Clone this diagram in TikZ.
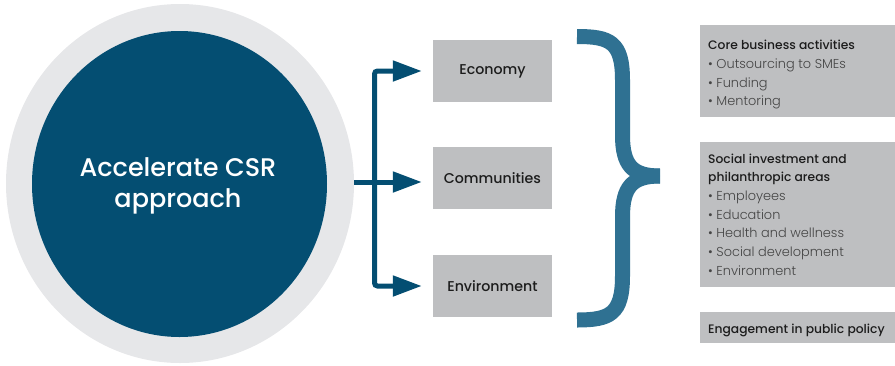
\documentclass[tikz,border=0pt]{standalone}
\usepackage{fontspec}
\setmainfont{Poppins}
\newfontfamily\medfont{Poppins Medium}
\newfontfamily\lightfont{Poppins Light}
\usetikzlibrary{shapes.geometric,arrows.meta}

\definecolor{navy}{HTML}{044E72}
\definecolor{ringgray}{HTML}{E6E7E9}
\definecolor{boxgray}{HTML}{BEBFC1}
\definecolor{bracecol}{HTML}{2F7192}
\definecolor{headtxt}{HTML}{1C1C1C}
\definecolor{itemtxt}{HTML}{454545}

\tikzset{
  pillar/.style={fill=boxgray, minimum width=119pt, minimum height=62pt,
    inner sep=0pt, font=\fontsize{14.2}{16}\medfont, text=headtxt},
  flow/.style={draw=navy, line width=5pt, rounded corners=3pt,
    -{Triangle[length=29pt,width=20pt]}, shorten >=11pt},
  panel/.style={fill=boxgray, anchor=north west, inner sep=0pt},
  paneltext/.style={anchor=north west, align=left, inner sep=0pt,
    font=\fontsize{12.9}{18.7}\lightfont, text=itemtxt},
  bracestroke/.style={draw=bracecol, line width=15pt, line cap=butt}
}
\newcommand{\hd}[1]{{\fontsize{12.3}{18.7}\medfont\color{headtxt}#1}}

\begin{document}
\begin{tikzpicture}[x=1pt,y=-1pt]
\useasboundingbox (0,0) rectangle (895,365);

% central disc with its pale ring
\node[ellipse, fill=ringgray, minimum width=348pt, minimum height=359pt, inner sep=0pt] (ring) at (180,183.5) {};
\node[ellipse, fill=navy, minimum width=295pt, minimum height=306pt, inner sep=0pt] (core) at (179.5,184) {};
\node[align=center, text=white, font=\fontsize{25.5}{31}\medfont] (title) at (178,186) {Accelerate CSR\\approach};

% three pillars
\node[pillar] (eco) at (492.5,71) {Economy};
\node[pillar] (com) at (492.5,178) {Communities};
\node[pillar] (env) at (492.5,286) {Environment};

% branching connectors
\coordinate (jn) at (374.5,182);
\draw[flow] (ring.east |- jn) -- (com.west |- jn);
\draw[flow] (jn) |- (eco.west);
\draw[flow] (jn) |- (env.west);

% curly brace
\draw[bracestroke] (577,36.5) .. controls (610,36.5) and (622.5,42) .. (622.5,80)
  -- (622.5,135) .. controls (622.5,165) and (632,176) .. (660,176);
\draw[bracestroke] (577,320) .. controls (610,320) and (622.5,314) .. (622.5,276)
  -- (622.5,217) .. controls (622.5,187) and (632,176) .. (660,176);

% right-hand panels
\node[panel, minimum width=195pt, minimum height=92pt] (p1) at (700,25) {};
\node[panel, minimum width=195pt, minimum height=145pt] (p2) at (700,142) {};
\node[panel, minimum width=195pt, minimum height=31pt] (p3) at (700,312) {};

\node[paneltext] (t1) at ([xshift=8pt,yshift=-15pt]p1.north west)
  {\hd{Core business activities}\\
   • Outsourcing to SMEs\\
   • Funding\\
   • Mentoring};
\node[paneltext] (t2) at ([xshift=8pt,yshift=-11.5pt]p2.north west)
  {\hd{Social investment and}\\
   \hd{philanthropic areas}\\
   • Employees\\
   • Education\\
   • Health and wellness\\
   • Social development\\
   • Environment};
\node[paneltext, anchor=west] (t3) at ([xshift=8pt,yshift=-3pt]p3.west)
  {\hd{Engagement in public policy}};
\end{tikzpicture}
\end{document}
